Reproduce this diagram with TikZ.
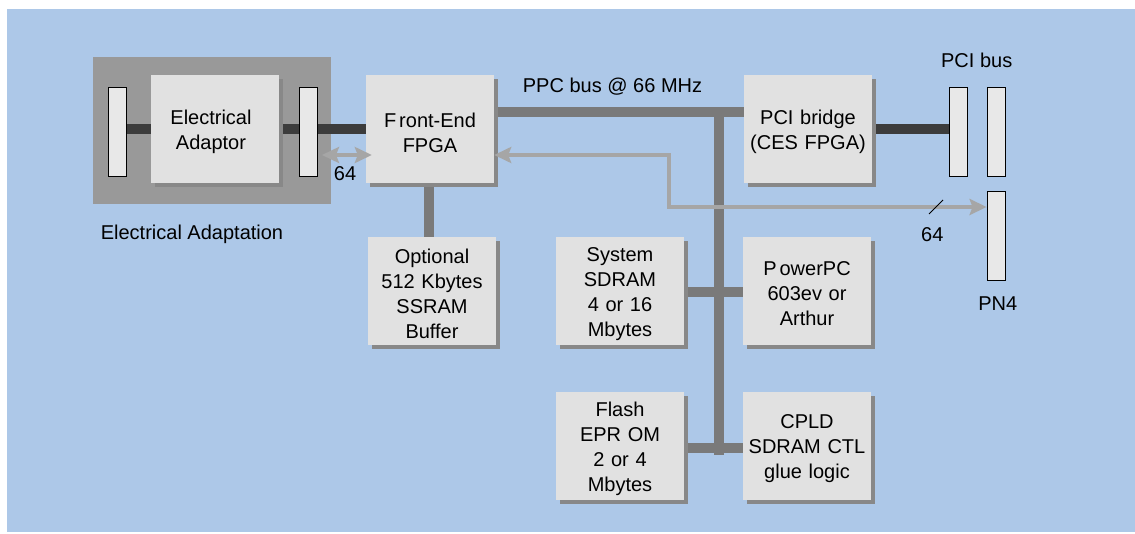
\documentclass[tikz,border=0pt]{standalone}
\usepackage{fontspec}
\setmainfont{Liberation Sans}
\usetikzlibrary{arrows.meta,shadows}
\definecolor{bgblue}{RGB}{173,200,232}
\definecolor{eagray}{RGB}{153,153,153}
\definecolor{boxgray}{RGB}{225,225,225}
\definecolor{shadowgray}{RGB}{136,136,136}
\definecolor{busgray}{RGB}{122,122,122}
\definecolor{darkline}{RGB}{60,60,60}
\definecolor{arrowgray}{RGB}{166,166,166}
\definecolor{slotfill}{RGB}{232,232,232}
\pgfdeclarelayer{bglayer}
\pgfdeclarelayer{backlayer}
\pgfsetlayers{bglayer,backlayer,main}
\begin{document}
\begin{tikzpicture}[x=1pt,y=-1pt,
  font=\fontsize{20}{25}\selectfont,
  blockbox/.style={fill=boxgray, minimum width=128pt, minimum height=108pt,
    inner sep=0pt,
    drop shadow={shadow xshift=4pt, shadow yshift=-4pt, fill=shadowgray, opacity=1}},
  blocktext/.style={inner sep=0pt, text width=128pt, align=center},
  slotbox/.style={draw=black, line width=0.8pt, fill=slotfill, minimum width=18pt,
    minimum height=89pt, inner sep=0pt},
  busline/.style={draw=busgray, line width=10pt},
  darkconn/.style={draw=darkline, line width=10pt},
  grayarrow/.style={draw=arrowgray, line width=3.5pt, line join=miter,
    {Stealth[length=17pt,width=16pt,inset=3pt]}-{Stealth[length=17pt,width=16pt,inset=3pt]}},
  lbl/.style={anchor=base, inner sep=0pt}
]
\useasboundingbox (0,0) rectangle (1135,533);

% blocks
\node[blockbox] (adaptor) at (215,129) {};
\node[blockbox] (fpga) at (430,129) {};
\node[blockbox] (pcib) at (808,129) {};
\node[blockbox] (opt) at (432,291) {};
\node[blockbox] (sdram) at (620,291) {};
\node[blockbox] (ppc) at (807,291) {};
\node[blockbox] (flash) at (620,446) {};
\node[blockbox] (cpld) at (807,446) {};

\node[blocktext] (adaptorT) at ([xshift=-4pt,yshift=-3pt]adaptor.center) {Electrical\\Adaptor};
\node[blocktext] (fpgaT) at ([yshift=-3.5pt]fpga.center) {F\kern3pt ront-End\\FPGA};
\node[blocktext] (pcibT) at ([yshift=-2.5pt]pcib.center) {PCI bridge\\(CES FPGA)};
\node[blocktext] (optT) at ([yshift=-3pt]opt.center) {Optional\\512 Kbytes\\SSRAM\\Buffer};
\node[blocktext] (sdramT) at ([yshift=-3pt]sdram.center) {System\\SDRAM\\4 or 16\\Mbytes};
\node[blocktext] (ppcT) at ([yshift=-3pt]ppc.center) {P\kern3pt owerPC\\603ev or\\Arthur};
\node[blocktext] (flashT) at ([yshift=-3pt]flash.center) {Flash\\EPR OM\\2 or 4\\Mbytes};
\node[blocktext] (cpldT) at ([yshift=-3pt]cpld.center) {CPLD\\SDRAM CTL\\glue logic};

% slots
\node[slotbox] (s1) at (117,131.5) {};
\node[slotbox] (s2) at (308,131.5) {};
\node[slotbox] (p1) at (958,131.5) {};
\node[slotbox] (p2) at (996,131.5) {};
\node[slotbox] (pn4) at (996,235.5) {};

% background
\begin{pgfonlayer}{bglayer}
  \fill[white] (0,0) rectangle (1135,533);
  \fill[bgblue] (7,9) rectangle (1135,532);
  \node[fill=eagray, minimum width=238pt, minimum height=147pt, inner sep=0pt] (eabox) at (212,130.5) {};
\end{pgfonlayer}

% buses and connectors
\coordinate (ppcY) at (0,111.7);
\coordinate (vtop) at (718.7,111.7);
\coordinate (vbot) at (718.7,455);
\coordinate (stubA) at (0,291.7);
\coordinate (stubB) at (0,448.3);
\coordinate (optX) at (428.5,0);
\begin{pgfonlayer}{backlayer}
  \draw[busline] (fpga.east |- ppcY) -- (pcib.west |- ppcY);
  \draw[busline] (vtop) -- (vbot);
  \draw[busline] (sdram.east |- stubA) -- (ppc.west |- stubA);
  \draw[busline] (flash.east |- stubB) -- (cpld.west |- stubB);
  \draw[busline] (fpga.south -| optX) -- (opt.north -| optX);
  \draw[darkconn] (s1.east |- adaptor) -- (adaptor.west);
  \draw[darkconn] (adaptor.east) -- (s2.west |- adaptor);
  \draw[darkconn] (s2.east |- fpga) -- (fpga.west);
  \draw[darkconn] (pcib.east) -- (p1.west |- pcib);
\end{pgfonlayer}

% arrows
\coordinate (arrL) at (322,155);
\draw[grayarrow, shorten >=-6pt] (arrL) -- (fpga.west |- arrL);
\coordinate (bendT) at (669,155);
\coordinate (bendB) at (669,207);
\draw[grayarrow] (fpga.east |- bendT) -- (bendT) -- (bendB) -- (pn4.west |- bendB);
\coordinate (sl1) at (929,214);
\coordinate (sl2) at (943,200);
\draw[black, line width=0.9pt] (sl1) -- (sl2);

% labels
\node[lbl] (eaLabel) at (192,239) {Electrical Adaptation};
\node[lbl] (n64a) at (345,180.5) {64};
\node[lbl] (n64b) at (932.3,241.5) {64};
\node[lbl] (pcibus) at (976.7,67.5) {PCI bus};
\node[lbl] (pn4lbl) at (997.7,310) {PN4};
\node[lbl] (ppcbus) at (612.5,92) {PPC bus @ 66 MHz};
\end{tikzpicture}
\end{document}
